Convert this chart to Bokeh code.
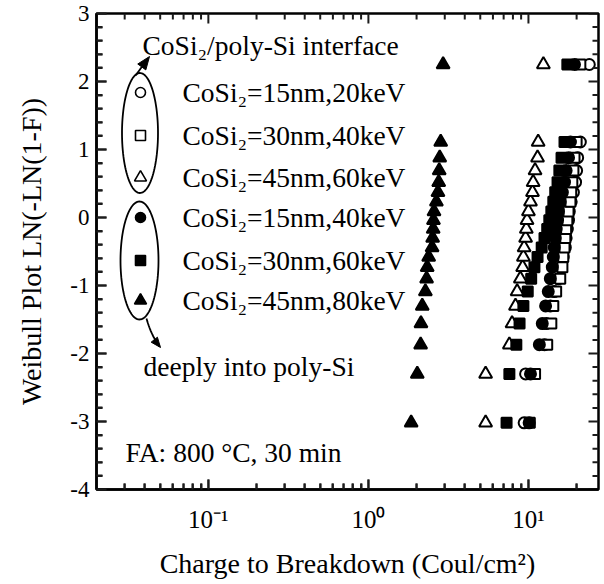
import numpy as np
from bokeh.plotting import figure
from bokeh.models import FixedTicker
from bokeh.core.properties import value
from bokeh.embed import file_html
from bokeh.resources import INLINE

# Weibull plotting positions LN(-LN(1-F)) shared by every sample set
weibull_y = [-3.02, -2.30, -1.87, -1.56, -1.30, -1.09, -0.90, -0.73, -0.58, -0.44,
             -0.30, -0.17, -0.04, 0.09, 0.23, 0.37, 0.52, 0.69, 0.88, 1.11, 2.25]

# Charge to breakdown (C/cm^2), sorted, one list per CoSi2 thickness / implant energy
qbd_15nm_20kev = [9.4, 9.6, 12.6, 12.9, 13.7, 14.5, 15.4, 16.1, 16.5, 17.0, 17.2,
                  17.5, 17.8, 18.0, 18.5, 19.1, 19.7, 20.0, 20.3, 21.1, 24.0]
qbd_30nm_40kev = [10.2, 11.0, 13.1, 13.9, 14.3, 14.9, 15.8, 16.3, 16.5, 16.8, 17.0,
                  17.2, 17.5, 17.8, 18.3, 18.5, 18.8, 19.1, 19.4, 20.0, 21.1]
qbd_45nm_60kev = [5.4, 5.4, 7.6, 7.9, 8.3, 8.5, 8.9, 9.2, 9.3, 9.4, 9.6,
                  9.7, 9.8, 10.0, 10.3, 10.6, 10.7, 11.0, 11.4, 11.5, 12.4]
qbd_15nm_40kev = [10.1, 10.3, 11.7, 12.2, 12.8, 13.3, 13.7, 14.1, 14.3, 14.5, 14.7,
                  14.9, 15.2, 15.4, 15.8, 16.3, 16.8, 17.2, 17.8, 18.3, 19.4]
qbd_30nm_60kev = [7.3, 7.6, 8.4, 8.8, 9.3, 9.9, 10.4, 10.9, 11.4, 12.1, 12.6,
                  13.1, 13.5, 13.9, 14.3, 14.7, 15.2, 15.6, 16.1, 16.8, 17.5]
qbd_45nm_80kev = [1.85, 2.02, 2.12, 2.13, 2.17, 2.27, 2.31, 2.33, 2.38, 2.50, 2.52,
                  2.54, 2.55, 2.57, 2.66, 2.72, 2.75, 2.77, 2.79, 2.83, 2.93]

legend_labels = ["CoSi₂=15nm,20keV", "CoSi₂=30nm,40keV", "CoSi₂=45nm,60keV",
                 "CoSi₂=15nm,40keV", "CoSi₂=30nm,60keV", "CoSi₂=45nm,80keV"]
x_tick_values = [0.1, 1, 10]
x_tick_labels = ["10⁻¹", "10⁰", "10¹"]
y_tick_values = [-4, -3, -2, -1, 0, 1, 2, 3]
y_tick_labels = ["-4", "-3", "-2", "-1", "0", "1", "2", "3"]

X_LO, X_HI = 0.02, 27.4
Y_LO, Y_HI = -4, 3

# plot frame in canvas pixels, used to place the hand-drawn annotations
FRAME_L, FRAME_R, FRAME_T, FRAME_B = 96, 598, 13, 489
FONT = "Liberation Serif"
INK = "#1c1c1c"
MAJOR_LEN, MINOR_LEN = 10, 6


def sx(px):
    lo, hi = np.log10(X_LO), np.log10(X_HI)
    return 10 ** (lo + (np.asarray(px, float) - FRAME_L) / (FRAME_R - FRAME_L) * (hi - lo))


def sy(py):
    return Y_HI - (np.asarray(py, float) - FRAME_T) / (FRAME_B - FRAME_T) * (Y_HI - Y_LO)


p = figure(width=604, height=584, x_axis_type="log",
           x_range=(X_LO, X_HI), y_range=(Y_LO, Y_HI),
           output_backend="svg", toolbar_location=None,
           min_border_left=FRAME_L, min_border_right=604 - FRAME_R,
           min_border_top=FRAME_T, min_border_bottom=584 - FRAME_B,
           background_fill_color="white", border_fill_color="white",
           outline_line_color="black", outline_line_width=2.5)
p.xgrid.visible = False
p.ygrid.visible = False

minor_x = [m * 10.0 ** e for e in (-2, -1, 0, 1) for m in range(2, 10)
           if X_LO < m * 10.0 ** e < X_HI]
minor_y = [v / 5 for v in range(5 * Y_LO, 5 * Y_HI + 1) if v % 5 != 0]


def style_axis(ax):
    ax.axis_line_width = 2.5
    ax.axis_line_color = "black"
    ax.major_tick_in = MAJOR_LEN
    ax.major_tick_out = 0
    ax.minor_tick_in = MINOR_LEN
    ax.minor_tick_out = 0
    ax.major_tick_line_color = INK
    ax.minor_tick_line_color = INK
    ax.major_tick_line_width = 2
    ax.minor_tick_line_width = 2
    ax.major_label_text_font = FONT
    ax.major_label_text_color = "black"
    ax.axis_label_text_font = FONT
    ax.axis_label_text_font_style = "normal"
    ax.axis_label_text_font_size = "28px"
    ax.axis_label_text_color = "black"


xa = p.xaxis[0]
style_axis(xa)
xa.ticker = FixedTicker(ticks=x_tick_values, minor_ticks=minor_x)
xa.major_label_overrides = dict(zip(x_tick_values, x_tick_labels))
xa.major_label_text_font_size = "25px"
xa.major_label_standoff = 16
xa.axis_label = "Charge to Breakdown (Coul/cm²)"
xa.axis_label_standoff = 12

ya = p.yaxis[0]
style_axis(ya)
ya.ticker = FixedTicker(ticks=y_tick_values, minor_ticks=minor_y)
ya.major_label_overrides = dict(zip(y_tick_values, y_tick_labels))
ya.major_label_text_font_size = "23px"
ya.major_label_standoff = 7
ya.axis_label = "Weibull Plot LN(-LN(1-F))"
ya.axis_label_standoff = 20

# data: hollow sets first, filled sets drawn over them
series = [
    (qbd_45nm_60kev, "triangle", "white", 13),
    (qbd_15nm_20kev, "circle", "white", 11),
    (qbd_30nm_40kev, "square", "white", 10),
    (qbd_45nm_80kev, "triangle", "black", 13),
    (qbd_30nm_60kev, "square", "black", 10),
    (qbd_15nm_40kev, "circle", "black", 11),
]
for xs, marker, fill, size in series:
    p.scatter(x=xs, y=weibull_y, marker=marker, size=size, fill_color=fill,
              line_color="black", line_width=2)

# legend block: symbols, labels, grouping ellipses and arrows
legend_markers = [("circle", "white"), ("square", "white"), ("triangle", "white"),
                  ("circle", "black"), ("square", "black"), ("triangle", "black")]
row_py = [92, 135, 177, 217, 260, 300]
for (marker, fill), py in zip(legend_markers, row_py):
    p.scatter(x=[float(sx(140))], y=[float(sy(py))], marker=marker,
              size=12 if marker == "triangle" else 10,
              fill_color=fill, line_color="black", line_width=1.6)

p.text(x=[float(v) for v in sx(np.full(6, 182))], y=[float(v) for v in sy(row_py)],
       text=legend_labels,
       text_font=value(FONT), text_font_size=value("27.5px"),
       text_baseline="middle", text_align="left", text_color="black")

notes = [(142, 45, "CoSi₂/poly-Si interface"),
         (143, 366, "deeply into poly-Si"),
         (125, 452, "FA: 800 °C, 30 min")]
p.text(x=[float(sx(n[0])) for n in notes], y=[float(sy(n[1])) for n in notes],
       text=[n[2] for n in notes],
       text_font=value(FONT), text_font_size=value("27.5px"),
       text_baseline="middle", text_align="left", text_color="black")

t = np.linspace(0, 2 * np.pi, 120)
for cx, cy, rx, ry in [(139.5, 132.5, 18, 60), (139, 260, 19, 59)]:
    p.line(x=sx(cx + rx * np.cos(t)), y=sy(cy + ry * np.sin(t)),
           line_color="black", line_width=1.8)


def arrow(path, head_len, head_w):
    pts = np.asarray(path, float)
    tip, prev = pts[-1], pts[-2]
    d = (tip - prev) / np.hypot(*(tip - prev))
    n = np.array([-d[1], d[0]])
    base = tip - d * head_len
    shaft = np.vstack([pts[:-1], base])
    p.line(x=sx(shaft[:, 0]), y=sy(shaft[:, 1]), line_color="black", line_width=1.8)
    head = np.array([tip, base + n * head_w / 2, base - n * head_w / 2])
    p.patch(x=sx(head[:, 0]), y=sy(head[:, 1]), fill_color="black", line_color="black")


arrow([(135, 75), (149, 56)], 13, 10)
s = np.linspace(0, 1, 20)
p0, p1, p2 = np.array([146, 318]), np.array([151, 336]), np.array([160, 347])
curve = [(1 - v) ** 2 * p0 + 2 * (1 - v) * v * p1 + v ** 2 * p2 for v in s]
arrow(curve, 10, 8)


# inward tick marks on all four sides, drawn last as thin screen-sized bars
def tick_bars(positions, length, horizontal_edge):
    xs, ys, ws, hs = [], [], [], []
    for v in positions:
        if horizontal_edge:
            for edge in (FRAME_T + length / 2, FRAME_B - length / 2):
                xs.append(float(v))
                ys.append(float(sy(edge)))
                ws.append(2)
                hs.append(length)
        else:
            for edge in (FRAME_L + length / 2, FRAME_R - length / 2):
                xs.append(float(sx(edge)))
                ys.append(float(v))
                ws.append(length)
                hs.append(2)
    p.rect(x=xs, y=ys, width=ws, height=hs, width_units="screen", height_units="screen",
           fill_color=INK, line_color=None)


tick_bars(x_tick_values, MAJOR_LEN, True)
tick_bars(minor_x, MINOR_LEN, True)
tick_bars(y_tick_values, MAJOR_LEN, False)
tick_bars(minor_y, MINOR_LEN, False)

open("out.html", "w").write(file_html(p, INLINE))
